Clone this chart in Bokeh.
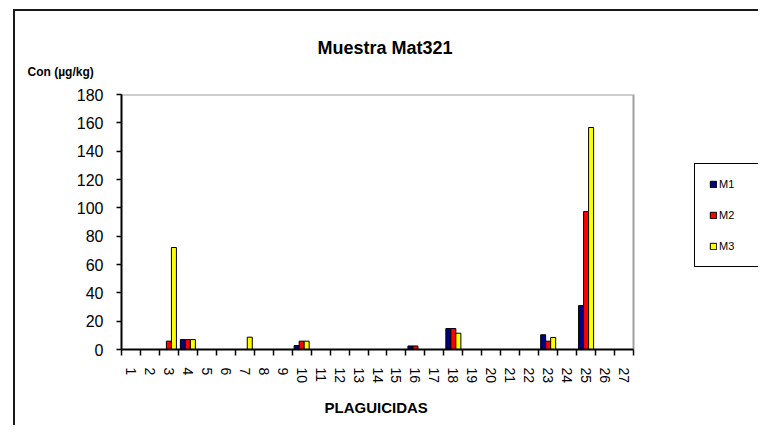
from bokeh.plotting import figure
from bokeh.models import (ColumnDataSource, FixedTicker, Legend, LegendItem, Range1d, Title)
from bokeh.transform import dodge
from bokeh.embed import file_html
from bokeh.resources import INLINE

# ---- data ----
categories = list(range(1, 28))
tick_labels = [str(c) for c in categories]
series_names = ["M1", "M2", "M3"]
m1 = [0, 0, 0, 7.0, 0, 0, 0, 0, 0, 2.8, 0, 0, 0, 0, 0, 2.5, 0, 14.8, 0, 0, 0, 0, 10.4, 0, 31.0, 0, 0]
m2 = [0, 0, 5.9, 7.0, 0, 0, 0, 0, 0, 5.9, 0, 0, 0, 0, 0, 2.5, 0, 14.8, 0, 0, 0, 0, 5.9, 0, 97.4, 0, 0]
m3 = [0, 0, 72.0, 7.0, 0, 0, 8.7, 0, 0, 5.9, 0, 0, 0, 0, 0, 0, 0, 11.5, 0, 0, 0, 0, 8.5, 0, 156.7, 0, 0]
y_ticks = [0, 20, 40, 60, 80, 100, 120, 140, 160, 180]
colors = ["#000080", "#FF0000", "#FFFF00"]

FONT = "Liberation Sans"

# plot area for the bars is 512px wide; the drawing frame also holds the legend (637px)
BAR_AREA_W = 512
FRAME_W = 637
x_start = categories[0] - 0.5
x_bar_end = categories[-1] + 0.5
x_end = x_start + (x_bar_end - x_start) * FRAME_W / BAR_AREA_W
y_top = y_ticks[-1]

source = ColumnDataSource(dict(x=categories, M1=m1, M2=m2, M3=m3))

p = figure(frame_width=FRAME_W, frame_height=255, output_backend="svg", toolbar_location=None,
           x_range=Range1d(x_start, x_end), y_range=Range1d(0, y_top),
           min_border_left=106, min_border_right=0, min_border_top=83, min_border_bottom=40,
           title="Muestra Mat321")
p.margin = (9, 0, 0, 13)
p.styles = {"border-left": "2px solid #1a1a1a", "border-top": "2px solid #1a1a1a"}

p.grid.visible = False
p.outline_line_color = None
p.background_fill_color = "white"
p.border_fill_color = "white"

# gray plot-area border (top and right sides)
p.line(x=[x_start, x_bar_end, x_bar_end], y=[y_top, y_top, 0], line_color="#a0a0a0", line_width=2)

bw = 0.264
offsets = [-bw, 0.0, bw]
renderers = []
for name, col, off in zip(series_names, colors, offsets):
    r = p.vbar(x=dodge("x", off, range=p.x_range), top=name, width=bw, bottom=0,
               source=source, fill_color=col, line_color="black", line_width=1)
    renderers.append(r)

# main title (outer)
p.title.text_font = FONT
p.title.text_font_size = "18px"
p.title.text_font_style = "bold"
p.title.align = "left"
p.title.offset = 196
p.title.standoff = -23
p.title.text_color = "black"

# unit label (closest to the frame)
unit_title = Title(text="Con (µg/kg)", text_font=FONT, text_font_size="12px",
                   text_font_style="bold", align="left", offset=-94, standoff=32,
                   text_color="black")
p.add_layout(unit_title, "above")

# x axis
xa = p.xaxis[0]
xa.bounds = (x_start, x_bar_end)
xa.ticker = FixedTicker(ticks=categories, minor_ticks=[c - 0.5 for c in categories] + [x_bar_end])
xa.major_label_overrides = {c: t for c, t in zip(categories, tick_labels)}
xa.major_label_orientation = "vertical"
xa.major_tick_out = 0
xa.major_tick_in = 0
xa.minor_tick_out = 6
xa.minor_tick_in = 0
xa.minor_tick_line_color = "black"
xa.minor_tick_line_width = 1.5
xa.axis_line_color = "black"
xa.axis_line_width = 2
xa.major_label_text_font = FONT
xa.major_label_text_font_size = "14px"
xa.major_label_text_color = "black"
xa.major_label_standoff = 12

# x axis title, centred under the bar area
x_title = Title(text="PLAGUICIDAS", text_font=FONT, text_font_size="15px",
                text_font_style="bold", align="left", offset=203, standoff=20,
                text_color="black")
p.add_layout(x_title, "below")

# y axis
ya = p.yaxis[0]
ya.ticker = FixedTicker(ticks=y_ticks)
ya.major_tick_out = 5
ya.major_tick_in = 0
ya.major_tick_line_width = 1.5
ya.minor_tick_out = 0
ya.minor_tick_in = 0
ya.axis_line_color = "black"
ya.axis_line_width = 2
ya.major_label_text_font = FONT
ya.major_label_text_font_size = "16px"
ya.major_label_text_color = "black"
ya.major_label_standoff = 13

legend = Legend(items=[LegendItem(label=n, renderers=[r]) for n, r in zip(series_names, renderers)],
                location=(573, 82), border_line_color="black", border_line_width=1.5,
                border_line_alpha=1,
                glyph_width=8, glyph_height=8, label_height=8, label_width=25,
                spacing=19, padding=14,
                label_standoff=2, label_text_font=FONT, label_text_font_size="11px",
                label_text_color="black", background_fill_color="white", margin=0)
p.add_layout(legend, "center")

open("out.html", "w").write(file_html(p, INLINE))
